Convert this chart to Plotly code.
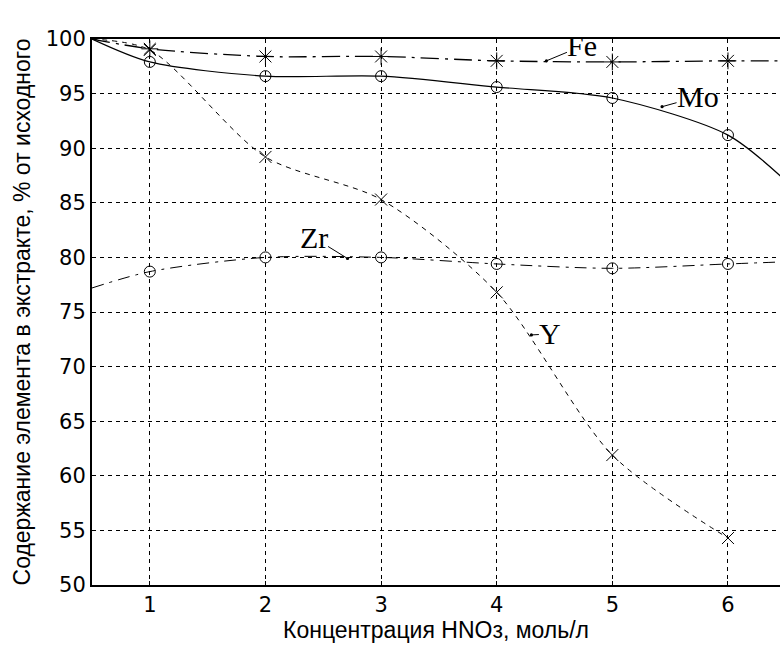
import plotly.graph_objects as go

# HNO3 concentration, mol/L (curves start at 0.5; Fe, Mo, Zr run off the right edge)
conc = [0.5, 1, 2, 3, 4, 5, 6, 6.5]
conc_y = [0.5, 1, 2, 3, 4, 5, 6]
fe = [100.0, 99.1, 98.4, 98.4, 98.0, 97.9, 98.0, 98.0]
mo = [100.0, 97.9, 96.6, 96.6, 95.6, 94.6, 91.2, 87.0]
yt = [100.0, 99.0, 89.2, 85.3, 76.8, 61.9, 54.3]
zr = [77.2, 78.7, 80.0, 80.0, 79.4, 79.0, 79.4, 79.6]

fig = go.Figure()

def curve(x, y, dash, width):
    fig.add_trace(go.Scatter(x=x, y=y, mode="lines", line=dict(color="black", width=width, dash=dash, shape="spline", smoothing=0.8), showlegend=False, hoverinfo="skip"))

def marks(x, y, symbol, size):
    fig.add_trace(go.Scatter(x=x[1:7], y=y[1:7], mode="markers", marker=dict(symbol=symbol, size=size, color="black", line=dict(color="black", width=1)), showlegend=False, hoverinfo="skip"))

curve(conc, fe, "18px,6px,3px,6px", 1.3)
curve(conc, mo, "solid", 1.2)
curve(conc_y, yt, "5px,5px", 1)
curve(conc, zr, "12px,6px,3px,6px", 1)

marks(conc, fe, "asterisk-open", 14)
marks(conc, mo, "circle-open", 11)
marks(conc_y, yt, "x-thin-open", 12)
marks(conc, zr, "circle-open", 11)

labels = [("Fe", 4.43, 98.0, 36, -15), ("Mo", 5.43, 93.8, 36, -10), ("Zr", 2.71, 79.9, -34, -21), ("Y", 4.30, 72.9, 19, -1)]
for txt, lx, ly, ax, ay in labels:
    fig.add_annotation(x=lx, y=ly, text=txt, showarrow=True, arrowhead=6, arrowsize=0.8, arrowwidth=1, arrowcolor="black", ax=ax, ay=ay, font=dict(family="Liberation Serif", size=30, color="black"), bgcolor="rgba(0,0,0,0)", borderpad=0)

sans = "Liberation Sans"
grid = dict(showgrid=True, gridcolor="black", gridwidth=1, griddash="4px,4px", showline=True, linecolor="black", linewidth=2, ticks="inside", ticklen=4, tickcolor="black", zeroline=False, automargin=False, tickfont=dict(family="DejaVu Sans", size=21, color="black"), title_font=dict(family=sans, size=23, color="black"))

fig.update_xaxes(range=[0.5, 6.45], tickvals=[1, 2, 3, 4, 5, 6], mirror=True, title_text="Концентрация HNOз, моль/л", title_standoff=3, **grid)
fig.update_yaxes(range=[50, 100], tickvals=list(range(50, 101, 5)), mirror=False, title_text="Содержание элемента в экстракте, % от исходного", title_standoff=9, **grid)

fig.update_layout(width=780, height=648, margin=dict(l=92, r=0, t=39, b=63), plot_bgcolor="white", paper_bgcolor="white")

fig.write_html("out.html")
